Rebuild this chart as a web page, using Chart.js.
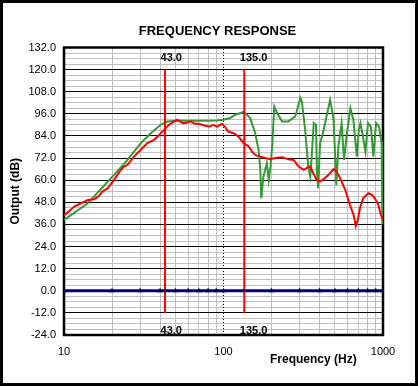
<!DOCTYPE html>
<html><head><meta charset="utf-8">
<script src="https://cdn.jsdelivr.net/npm/chart.js@4.4.1/dist/chart.umd.min.js"></script>
<style>
html,body{margin:0;padding:0;background:#fff;}
#wrap{width:418px;height:386px;box-sizing:border-box;border:3px solid #000;background:#fff;}
canvas{display:block;}
</style></head><body>
<div id="wrap"><canvas id="c" width="412" height="380"></canvas></div>
<script>
const xTicks = [10,20,30,40,50,60,70,80,90,100,200,300,400,500,600,700,800,900,1000];
const xTickLabels = [10,100,1000];
const yMin = -24, yMax = 132, yStep = 3, yLabelStep = 12;

const greenFreq = [10,14.1,20.6,25,30.3,35,40.4,44.5,50,56.6,70,91,100,110,118.6,131,134,147,158,166,170,172.5,178,187,192,197,202,208,217,233,255,282,303,310,325,340,350,355,368,380,385,392,403,420,466,490,510,525,550,570,592,625,652,685,705,722,748,776,805,840,870,905,945,980,993,1000];
const greenDb   = [38.4,47.5,62.9,71,80.1,85.5,90.1,91.9,92.2,92.2,92.3,92.4,92.8,93.7,95.5,96.7,97.3,93.7,85.5,76.5,66.5,50.2,62,69.2,60.2,67.4,78.3,100,96.4,91.9,91.9,94.6,104.6,102.7,87.3,67.4,62,69.2,91,90,65.6,55.6,80,85.5,103.6,93,57.4,78.3,91,71,84.5,99.1,92.8,72.8,87.3,91,83.7,75.5,91,89,72.8,91,89,80,36,81];

const redFreq = [10,10.4,11.6,12.8,14.1,15.5,16.6,17.4,18.8,20.6,22.7,23.8,25,27.5,30.3,33.3,36.7,39.5,42.3,45.5,47.7,51.3,55.2,58,62.3,66,70,77,82,86,91,98,102,107,116,124,134,144,151,158,170,183,197,211,233,255,275,296,318,340,350,365,385,403,432,455,490,512,538,580,620,654,675,695,717,750,810,852,890,935,970,1000];
const redDb   = [41,42.1,45.7,47.5,49.3,49.7,51.5,53.8,55.6,60.2,65.6,67.4,68.3,72.8,76.5,80.1,81.9,84.6,87.3,90,91.3,92.8,91,91,91.9,90.6,90.6,89.5,89.1,90,89.1,90.6,89.1,86.4,85.5,83.7,80.1,78.3,75.5,73.7,72.8,72,71.4,72,72.5,71.4,71,67.4,65.6,67.1,67.4,63.8,60.2,59.2,61.1,62.9,66,64.7,61.1,54.7,46.6,41.1,35.2,38.4,44.8,50.2,52.9,52,50.2,46.6,41.1,38.4];

const markerFreqs = [43, 135];
const markerLabels = ['43.0', '135.0'];
const markerTop = 120, markerBottom = -12;
const refLevel = 0;
const gridFreq = 100;

const FONT = "'Liberation Sans', Arial, sans-serif";

const pts = (fs, vs) => fs.map((f, i) => ({x: f, y: vs[i]}));

const datasets = [
  {label:'ref', data: xTicks.map(f => ({x:f, y:refLevel})), borderColor:'#000080', borderWidth:3,
   pointStyle:'triangle', pointRadius:3, pointBackgroundColor:'#000030', pointBorderWidth:0, order:0},
];
markerFreqs.forEach((f, i) => datasets.push({label:'m'+i, data:[{x:f,y:markerBottom},{x:f,y:markerTop}],
  borderColor:'#ff0000', borderWidth:2, pointRadius:0, order:1}));
datasets.push({label:'measured', data: pts(redFreq, redDb), borderColor:'#ff0000', borderWidth:2, pointRadius:0, order:2});
datasets.push({label:'model', data: pts(greenFreq, greenDb), borderColor:'#339933', borderWidth:2, pointRadius:0, order:3});
datasets.push({label:'g100', data:[{x:gridFreq,y:yMin},{x:gridFreq,y:yMax}], borderColor:'#000', borderWidth:1, borderDash:[1,2], pointRadius:0, order:4});

const decor = {
  id: 'decor',
  beforeDatasetsDraw(chart) {
    const {ctx, chartArea: a} = chart;
    ctx.save();
    ctx.strokeStyle = '#000'; ctx.lineWidth = 2.5;
    ctx.strokeRect(a.left, a.top, a.right - a.left, a.bottom - a.top);
    ctx.restore();
  },
  afterDraw(chart) {
    const {ctx, chartArea: a} = chart;
    const xs = chart.scales.x;
    ctx.save();
    ctx.fillStyle = '#000';
    ctx.font = 'bold 13px ' + FONT;
    ctx.textAlign = 'center'; ctx.textBaseline = 'alphabetic';
    ctx.fillText('FREQUENCY RESPONSE', 214.5, 32);
    ctx.font = 'bold 12px ' + FONT;
    ctx.textAlign = 'left';
    ctx.fillText('Frequency (Hz)', 267, 359.5);
    ctx.font = 'bold 11px ' + FONT;
    markerFreqs.forEach((f, i) => {
      const px = xs.getPixelForValue(f) - 4.5;
      ctx.fillText(markerLabels[i], px, a.top + 13.2);
      ctx.fillText(markerLabels[i], px, a.bottom - 1);
    });
    ctx.restore();
  }
};

new Chart(document.getElementById('c'), {
  type: 'line',
  data: { datasets },
  options: {
    responsive: false, animation: false,
    layout: { padding: { top: 44.5, right: 32, left: 0, bottom: 0 } },
    plugins: { legend: {display:false}, tooltip: {enabled:false}, title: {display:false} },
    elements: { line: { tension: 0 } },
    scales: {
      x: {
        type: 'logarithmic', min: 10, max: 1000,
        afterBuildTicks: s => { s.ticks = xTicks.map(v => ({value: v})); },
        afterFit: s => { s.height = 48; },
        grid: { color: c => (c.tick && c.tick.value === gridFreq) ? 'rgba(0,0,0,0)' : '#c0c0c0', lineWidth: 1, drawTicks: false },
        border: { display: false },
        ticks: { autoSkip: false, maxRotation: 0, padding: 10, color: '#000', font: {family: FONT, size: 11},
          callback: v => xTickLabels.includes(v) ? String(v) : '' }
      },
      y: {
        min: yMin, max: yMax,
        afterBuildTicks: s => { const t = []; for (let v = yMin; v <= yMax; v += yStep) t.push({value: v}); s.ticks = t; },
        afterFit: s => { s.width = 61; },
        grid: { color: c => (c.tick && c.tick.value % yLabelStep === 0) ? '#000' : '#c0c0c0', lineWidth: 1, drawTicks: false },
        border: { display: false },
        ticks: { autoSkip: false, padding: 8, color: '#000', font: {family: FONT, size: 11},
          callback: v => (v % yLabelStep === 0) ? Number(v).toFixed(1) : '' },
        title: { display: true, text: 'Output (dB)', color: '#000', font: {family: FONT, size: 12, weight: 'bold'}, padding: {top: 5, bottom: 0} }
      }
    }
  },
  plugins: [decor]
});
</script>
</body></html>
